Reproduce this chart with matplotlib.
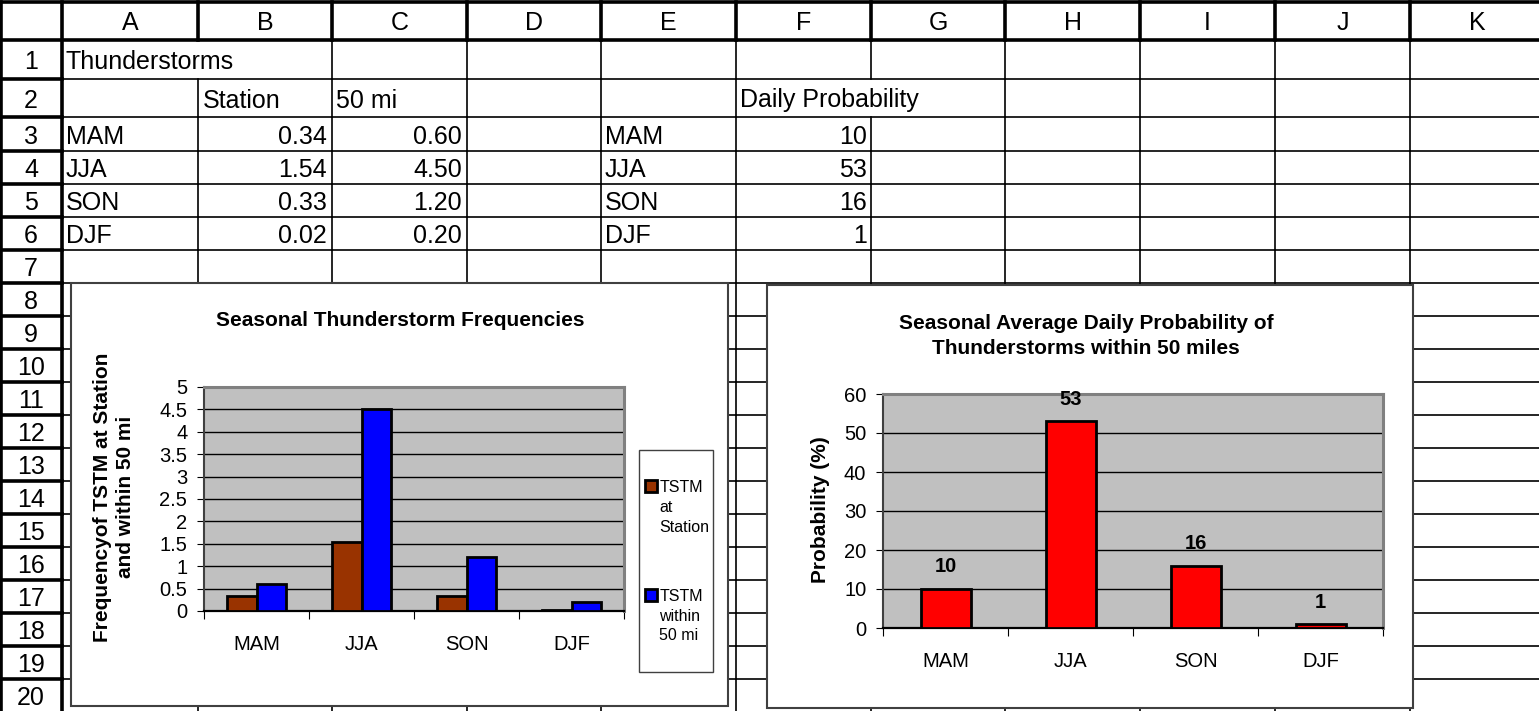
import numpy as np
import matplotlib
matplotlib.use('Agg')
from matplotlib import pyplot as plt
from matplotlib.patches import Rectangle

# sheet data
seasons = ['MAM', 'JJA', 'SON', 'DJF']
station_freq = [0.34, 1.54, 0.33, 0.02]
within50_freq = [0.60, 4.50, 1.20, 0.20]
daily_prob = [10, 53, 16, 1]

col_letters = ['A', 'B', 'C', 'D', 'E', 'F', 'G', 'H', 'I', 'J', 'K']
freq_ticks = [0, 0.5, 1, 1.5, 2, 2.5, 3, 3.5, 4, 4.5, 5]
prob_ticks = [0, 10, 20, 30, 40, 50, 60]

plt.rcParams['font.family'] = ['Liberation Sans', 'DejaVu Sans']

W, H = 1539, 711
fig = plt.figure(figsize=(W / 100, H / 100), dpi=100)


def fx(x):
    return x / W


def fy(y):
    return 1 - y / H


sheet = fig.add_axes([0, 0, 1, 1])
sheet.set_xlim(0, W)
sheet.set_ylim(H, 0)
sheet.axis('off')

col_x = [62, 198, 332, 467, 601, 736, 871, 1005, 1140, 1275, 1410, W + 5]
# row edges: header bottom, then the bottom of rows 1..20
row_y = [40, 79, 117, 151, 184, 217, 250, 283, 316, 349, 382, 415, 448,
         481, 514, 547, 580, 613, 646, 679, 712]
rows = list(zip(row_y[:-1], row_y[1:]))
thin = dict(color='black', lw=1.2, zorder=1)
thick = dict(color='black', lw=2.6, zorder=1)

# frame of the header row / row-number column
sheet.plot([0, W], [2, 2], **thick)
sheet.plot([0, W], [40, 40], **thick)
sheet.plot([1, 1], [2, H], **thick)
sheet.plot([62, 62], [2, H], **thick)
for xb in col_x[1:-1]:
    sheet.plot([xb, xb], [2, 40], **thick)
for yb in row_y[1:-1]:
    sheet.plot([0, 62], [yb, yb], **thick)
    sheet.plot([62, W], [yb, yb], **thin)

# cell borders hidden by overflowing text
hidden = {(198, 1), (871, 2)}
for xb in col_x[1:-1]:
    for r, (y0, y1) in enumerate(rows, start=1):
        if (xb, r) in hidden:
            continue
        sheet.plot([xb, xb], [y0, y1], **thin)

cell_fs = 18
for i, letter in enumerate(col_letters):
    sheet.text((col_x[i] + col_x[i + 1]) / 2, 21, letter, ha='center',
               va='center_baseline', fontsize=cell_fs, zorder=2)
for r, (y0, y1) in enumerate(rows, start=1):
    sheet.text(31, (y0 + y1) / 2, str(r), ha='center',
               va='center_baseline', fontsize=cell_fs, zorder=2)


def cell(text, row, x, ha='left'):
    y0, y1 = rows[row - 1]
    sheet.text(x, (y0 + y1) / 2, text, ha=ha, va='center_baseline',
               fontsize=cell_fs, zorder=2)


cell('Thunderstorms', 1, 66)
cell('Station', 2, 203)
cell('50 mi', 2, 336)
cell('Daily Probability', 2, 740)
for i, s in enumerate(seasons):
    cell(s, 3 + i, 66)
    cell(f'{station_freq[i]:.2f}', 3 + i, 327, ha='right')
    cell(f'{within50_freq[i]:.2f}', 3 + i, 462, ha='right')
    cell(s, 3 + i, 605)
    cell(f'{daily_prob[i]:d}', 3 + i, 867, ha='right')

# chart objects sitting on the sheet
sheet.add_patch(Rectangle((71, 283), 657, 423, fc='white', ec='#404040', lw=1.5, zorder=5))
sheet.add_patch(Rectangle((767, 285), 646, 423, fc='white', ec='#404040', lw=1.5, zorder=5))
sheet.add_patch(Rectangle((639, 450), 74, 222, fc='white', ec='#404040', lw=1, zorder=6))

tick_fs = 14.5
x = np.arange(len(seasons))
bounds = np.arange(len(seasons) + 1) - 0.5


def style_axes(ax):
    ax.set_facecolor('#C0C0C0')
    ax.set_xlim(-0.5, len(seasons) - 0.5)
    ax.yaxis.grid(True, color='black', linewidth=1)
    ax.set_axisbelow(True)
    for side in ['top', 'right']:
        ax.spines[side].set_color('#808080')
        ax.spines[side].set_linewidth(2.2)
    ax.spines['left'].set_color('#404040')
    ax.spines['left'].set_linewidth(1.5)
    ax.spines['bottom'].set_color('black')
    ax.spines['bottom'].set_linewidth(1.6)
    ax.set_xticks(bounds)
    ax.set_xticks(x, minor=True)
    ax.set_xticklabels(seasons, minor=True)
    ax.tick_params(axis='x', which='major', length=6, labelbottom=False)
    ax.tick_params(axis='x', which='minor', length=0, pad=17, labelsize=tick_fs)
    ax.tick_params(axis='y', length=5, pad=7, labelsize=tick_fs)


# chart 1
ax1 = fig.add_axes([fx(204), fy(611), (624 - 204) / W, (611 - 387) / H])
bw = 0.2857
ax1.bar(x - bw / 2, station_freq, bw, color='#993300', edgecolor='black',
        linewidth=2, label='TSTM\nat\nStation', zorder=3)
ax1.bar(x + bw / 2, within50_freq, bw, color='#0000FF', edgecolor='black',
        linewidth=2, label='TSTM\nwithin\n50 mi', zorder=3)
ax1.set_ylim(0, 5)
ax1.set_yticks(freq_ticks)
ax1.set_yticklabels([f'{t:g}' for t in freq_ticks])
style_axes(ax1)

leg = ax1.legend(loc='upper left', bbox_to_anchor=(fx(637), fy(472)),
                 bbox_transform=fig.transFigure, frameon=False, fontsize=11.5,
                 borderpad=0, handlelength=0.75, handleheight=0.75,
                 handletextpad=0.15, labelspacing=3.4)
for t in leg.get_texts():
    t.set_linespacing(1.4)
for col in leg._legend_handle_box.get_children():
    for item in col.get_children():
        item.align = 'top'

fig.text(fx(400), fy(320), 'Seasonal Thunderstorm Frequencies', ha='center',
         va='center', fontsize=15, fontweight='bold')
fig.text(fx(114), fy(497), 'Frequencyof TSTM at Station\nand within 50 mi',
         rotation=90, ha='center', va='center', fontsize=15, fontweight='bold',
         linespacing=1.3)

# chart 2
ax2 = fig.add_axes([fx(883), fy(628), (1383 - 883) / W, (628 - 394) / H])
bars = ax2.bar(x, daily_prob, 0.4, color='#FF0000', edgecolor='black',
               linewidth=2, zorder=3)
ax2.set_ylim(0, 60)
ax2.set_yticks(prob_ticks)
style_axes(ax2)
ax2.bar_label(bars, labels=[str(v) for v in daily_prob], padding=9,
              fontsize=14.5, fontweight='bold')

fig.text(fx(1086), fy(336),
         'Seasonal Average Daily Probability of\nThunderstorms within 50 miles',
         ha='center', va='center', fontsize=15, fontweight='bold', linespacing=1.4)
fig.text(fx(821), fy(510), 'Probability (%)', rotation=90, ha='center',
         va='center', fontsize=15, fontweight='bold')

fig.savefig('out.png', dpi=100)
